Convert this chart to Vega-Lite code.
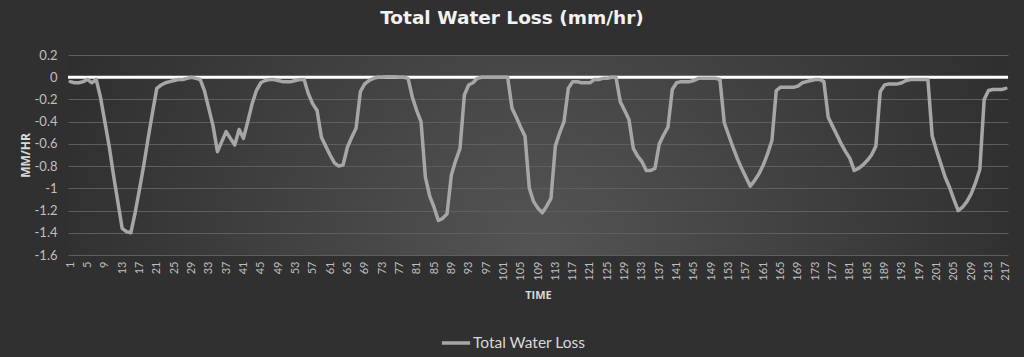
{
  "$schema": "https://vega.github.io/schema/vega-lite/v6.json",
  "width": 940,
  "height": 200,
  "autosize": {"type": "none"},
  "padding": {"left": 68, "top": 55, "right": 16, "bottom": 102},
  "background": "#303030",
  "title": {"text": "Total Water Loss (mm/hr)", "font": "DejaVu Sans", "fontSize": 18.5, "fontWeight": "bold", "color": "#f2f2f2", "frame": "group", "anchor": "middle", "dx": -26, "baseline": "alphabetic", "offset": 7},
  "config": {
    "view": {"stroke": null, "fill": {"gradient": "radial", "x1": 0.5, "y1": 0.6, "r1": 0, "x2": 0.5, "y2": 0.6, "r2": 0.6, "stops": [{"offset": 0, "color": "#545454"}, {"offset": 1, "color": "#2a2a2a"}]}},
    "axis": {"labelFont": "Lato", "titleFont": "Open Sans"},
    "axisY": {"title": "MM/HR", "titleColor": "#d9d9d9", "titleFontSize": 12, "titleFontWeight": "bold", "titlePadding": 2,
      "labelOverlap": false, "labelFontSize": 13, "labelColor": "#bfbfbf", "labelPadding": 11, "ticks": false, "domain": false,
      "grid": true, "gridColor": "#5e5e5e", "gridWidth": 1}
  },
  "layer": [
    {
      "data": {"values": [{"zero": 0}]},
      "mark": {"type": "rule", "color": "#ffffff", "strokeWidth": 3},
      "encoding": {"y": {"field": "zero", "type": "quantitative", "scale": {"domain": [-1.6, 0.2], "nice": false, "zero": false},
        "axis": {"title": "MM/HR", "values": [-1.6, -1.4, -1.2, -1, -0.8, -0.6, -0.4, -0.2, 0, 0.2], "labelExpr": "'' + datum.value"}}}
    },
    {
      "data": {"values": [
{"t":1,"v":-0.04},{"t":2,"v":-0.05},{"t":3,"v":-0.05},{"t":4,"v":-0.04},{"t":5,"v":-0.02},{"t":6,"v":-0.05},{"t":7,"v":-0.02},{"t":8,"v":-0.18},{"t":9,"v":-0.40},{"t":10,"v":-0.62},
{"t":11,"v":-0.88},{"t":12,"v":-1.12},{"t":13,"v":-1.36},{"t":14,"v":-1.39},{"t":15,"v":-1.40},{"t":16,"v":-1.22},{"t":17,"v":-1.01},{"t":18,"v":-0.79},{"t":19,"v":-0.55},{"t":20,"v":-0.32},
{"t":21,"v":-0.10},{"t":22,"v":-0.07},{"t":23,"v":-0.05},{"t":24,"v":-0.04},{"t":25,"v":-0.03},{"t":26,"v":-0.02},{"t":27,"v":-0.02},{"t":28,"v":-0.01},{"t":29,"v":0.0},{"t":30,"v":-0.01},
{"t":31,"v":-0.02},{"t":32,"v":-0.12},{"t":33,"v":-0.28},{"t":34,"v":-0.44},{"t":35,"v":-0.67},{"t":36,"v":-0.58},{"t":37,"v":-0.49},{"t":38,"v":-0.55},{"t":39,"v":-0.61},{"t":40,"v":-0.47},
{"t":41,"v":-0.55},{"t":42,"v":-0.40},{"t":43,"v":-0.24},{"t":44,"v":-0.12},{"t":45,"v":-0.05},{"t":46,"v":-0.03},{"t":47,"v":-0.02},{"t":48,"v":-0.02},{"t":49,"v":-0.03},{"t":50,"v":-0.04},
{"t":51,"v":-0.04},{"t":52,"v":-0.04},{"t":53,"v":-0.03},{"t":54,"v":-0.02},{"t":55,"v":-0.02},{"t":56,"v":-0.15},{"t":57,"v":-0.24},{"t":58,"v":-0.30},{"t":59,"v":-0.54},{"t":60,"v":-0.62},
{"t":61,"v":-0.70},{"t":62,"v":-0.77},{"t":63,"v":-0.80},{"t":64,"v":-0.79},{"t":65,"v":-0.63},{"t":66,"v":-0.54},{"t":67,"v":-0.46},{"t":68,"v":-0.13},{"t":69,"v":-0.06},{"t":70,"v":-0.03},
{"t":71,"v":-0.01},{"t":72,"v":0.0},{"t":73,"v":0.0},{"t":74,"v":0.005},{"t":75,"v":0.005},{"t":76,"v":0.005},{"t":77,"v":0.0},{"t":78,"v":0.0},{"t":79,"v":-0.01},{"t":80,"v":-0.18},
{"t":81,"v":-0.30},{"t":82,"v":-0.40},{"t":83,"v":-0.90},{"t":84,"v":-1.07},{"t":85,"v":-1.17},{"t":86,"v":-1.29},{"t":87,"v":-1.27},{"t":88,"v":-1.23},{"t":89,"v":-0.88},{"t":90,"v":-0.75},
{"t":91,"v":-0.64},{"t":92,"v":-0.16},{"t":93,"v":-0.07},{"t":94,"v":-0.05},{"t":95,"v":-0.01},{"t":96,"v":0.0},{"t":97,"v":0.0},{"t":98,"v":0.0},{"t":99,"v":0.0},{"t":100,"v":0.0},
{"t":101,"v":0.0},{"t":102,"v":0.0},{"t":103,"v":-0.28},{"t":104,"v":-0.36},{"t":105,"v":-0.45},{"t":106,"v":-0.53},{"t":107,"v":-1.00},{"t":108,"v":-1.12},{"t":109,"v":-1.18},{"t":110,"v":-1.22},
{"t":111,"v":-1.16},{"t":112,"v":-1.09},{"t":113,"v":-0.62},{"t":114,"v":-0.50},{"t":115,"v":-0.40},{"t":116,"v":-0.10},{"t":117,"v":-0.04},{"t":118,"v":-0.04},{"t":119,"v":-0.05},{"t":120,"v":-0.05},
{"t":121,"v":-0.05},{"t":122,"v":-0.02},{"t":123,"v":-0.02},{"t":124,"v":-0.01},{"t":125,"v":-0.01},{"t":126,"v":0.0},{"t":127,"v":0.0},{"t":128,"v":-0.22},{"t":129,"v":-0.30},{"t":130,"v":-0.38},
{"t":131,"v":-0.64},{"t":132,"v":-0.71},{"t":133,"v":-0.76},{"t":134,"v":-0.84},{"t":135,"v":-0.84},{"t":136,"v":-0.82},{"t":137,"v":-0.60},{"t":138,"v":-0.52},{"t":139,"v":-0.45},{"t":140,"v":-0.11},
{"t":141,"v":-0.05},{"t":142,"v":-0.04},{"t":143,"v":-0.04},{"t":144,"v":-0.04},{"t":145,"v":-0.03},{"t":146,"v":-0.01},{"t":147,"v":-0.01},{"t":148,"v":-0.01},{"t":149,"v":-0.01},{"t":150,"v":-0.01},
{"t":151,"v":-0.02},{"t":152,"v":-0.41},{"t":153,"v":-0.52},{"t":154,"v":-0.63},{"t":155,"v":-0.73},{"t":156,"v":-0.82},{"t":157,"v":-0.90},{"t":158,"v":-0.98},{"t":159,"v":-0.93},{"t":160,"v":-0.87},
{"t":161,"v":-0.79},{"t":162,"v":-0.69},{"t":163,"v":-0.57},{"t":164,"v":-0.12},{"t":165,"v":-0.09},{"t":166,"v":-0.09},{"t":167,"v":-0.09},{"t":168,"v":-0.09},{"t":169,"v":-0.08},{"t":170,"v":-0.05},
{"t":171,"v":-0.04},{"t":172,"v":-0.03},{"t":173,"v":-0.02},{"t":174,"v":-0.02},{"t":175,"v":-0.04},{"t":176,"v":-0.36},{"t":177,"v":-0.44},{"t":178,"v":-0.52},{"t":179,"v":-0.60},{"t":180,"v":-0.67},
{"t":181,"v":-0.73},{"t":182,"v":-0.84},{"t":183,"v":-0.82},{"t":184,"v":-0.79},{"t":185,"v":-0.75},{"t":186,"v":-0.70},{"t":187,"v":-0.62},{"t":188,"v":-0.13},{"t":189,"v":-0.07},{"t":190,"v":-0.06},
{"t":191,"v":-0.06},{"t":192,"v":-0.06},{"t":193,"v":-0.05},{"t":194,"v":-0.03},{"t":195,"v":-0.02},{"t":196,"v":-0.02},{"t":197,"v":-0.02},{"t":198,"v":-0.02},{"t":199,"v":-0.02},{"t":200,"v":-0.53},
{"t":201,"v":-0.66},{"t":202,"v":-0.78},{"t":203,"v":-0.90},{"t":204,"v":-0.99},{"t":205,"v":-1.10},{"t":206,"v":-1.20},{"t":207,"v":-1.17},{"t":208,"v":-1.12},{"t":209,"v":-1.05},{"t":210,"v":-0.95},
{"t":211,"v":-0.83},{"t":212,"v":-0.20},{"t":213,"v":-0.12},{"t":214,"v":-0.11},{"t":215,"v":-0.11},{"t":216,"v":-0.11},{"t":217,"v":-0.10}
      ]},
      "mark": {"type": "line", "strokeWidth": 3.5, "strokeJoin": "round", "strokeCap": "round"},
      "encoding": {
        "x": {"field": "t", "type": "ordinal", "scale": {"type": "point", "padding": 0.5},
          "axis": {"title": "TIME", "titleColor": "#d9d9d9", "titleFontSize": 11, "titleFontWeight": "bold", "titlePadding": 9,
            "labelAngle": -90, "labelFontSize": 11, "labelColor": "#bfbfbf", "labelPadding": 6, "labelOverlap": false,
            "labelExpr": "(datum.value - 1) % 4 == 0 ? datum.label : ''", "ticks": false, "domain": false, "grid": false}},
        "y": {"field": "v", "type": "quantitative", "scale": {"domain": [-1.6, 0.2], "nice": false, "zero": false},
          "axis": {"title": "MM/HR", "values": [-1.6, -1.4, -1.2, -1, -0.8, -0.6, -0.4, -0.2, 0, 0.2], "labelExpr": "'' + datum.value"}},
        "color": {"datum": "Total Water Loss", "type": "nominal", "scale": {"range": ["#a6a6a6"]},
          "legend": {"title": null, "orient": "none", "legendX": 372, "legendY": 272, "symbolType": "stroke", "symbolStrokeWidth": 3.5, "symbolSize": 800,
            "labelFont": "Lato", "labelFontSize": 15.5, "labelColor": "#d9d9d9", "labelOffset": 1}}
      }
    }
  ]
}
